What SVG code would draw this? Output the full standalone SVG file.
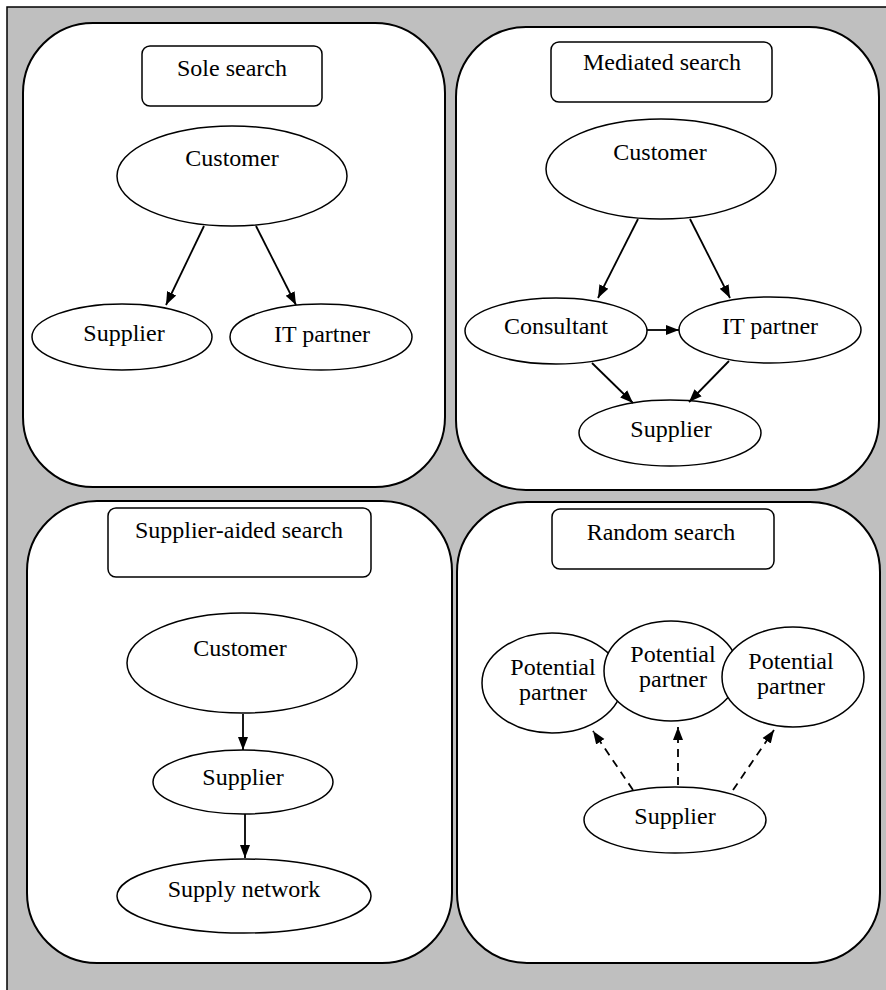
<svg xmlns="http://www.w3.org/2000/svg" width="886" height="990" viewBox="0 0 886 990">
  <style>
    .frame { fill: #bfbfbf; stroke: #000; stroke-width: 1.5; }
    .panel { fill: #fff; stroke: #000; stroke-width: 2; }
    .title { fill: #fff; stroke: #000; stroke-width: 1.5; }
    .node { fill: #fff; stroke: #000; stroke-width: 1.5; }
    .lbl { font-family: "Liberation Serif", "Times New Roman", serif; font-size: 24px; fill: #000; text-anchor: middle; }
    .edge { stroke: #000; stroke-width: 1.8; fill: none; marker-end: url(#arrow); }
    .dash { stroke-dasharray: 8 6; }
  </style>
  <defs>
    <marker id="arrow" markerUnits="userSpaceOnUse" markerWidth="14" markerHeight="12" refX="13" refY="6" orient="auto">
      <path d="M0,1 L13,6 L0,11 Z" fill="#000"/>
    </marker>
  </defs>

  <!-- background frame -->
  <rect class="frame" x="7" y="7" width="885" height="990"/>

  <!-- quadrant panels -->
  <g id="panel-sole">
    <rect class="panel" x="23" y="23" width="422" height="464" rx="70" ry="70"/>
    <rect class="title" x="142" y="46" width="180" height="60" rx="8" ry="8"/>
    <text class="lbl" x="232" y="76">Sole search</text>
  </g>
  <g id="panel-mediated">
    <rect class="panel" x="456" y="27" width="423" height="463" rx="70" ry="70"/>
    <rect class="title" x="551" y="42" width="221" height="60" rx="8" ry="8"/>
    <text class="lbl" x="662" y="70">Mediated search</text>
  </g>
  <g id="panel-supplier-aided">
    <rect class="panel" x="27" y="501" width="425" height="462" rx="70" ry="70"/>
    <rect class="title" x="108" y="508" width="263" height="69" rx="8" ry="8"/>
    <text class="lbl" x="239" y="538">Supplier-aided search</text>
  </g>
  <g id="panel-random">
    <rect class="panel" x="457" y="502" width="423" height="461" rx="70" ry="70"/>
    <rect class="title" x="552" y="509" width="222" height="60" rx="8" ry="8"/>
    <text class="lbl" x="661" y="540">Random search</text>
  </g>

  <!-- Sole search nodes -->
  <g id="sole-customer">
    <ellipse class="node" cx="232" cy="176" rx="115" ry="50"/>
    <text class="lbl" x="232" y="166">Customer</text>
  </g>
  <g id="sole-supplier">
    <ellipse class="node" cx="122" cy="337" rx="90" ry="33"/>
    <text class="lbl" x="124" y="341">Supplier</text>
  </g>
  <g id="sole-it-partner">
    <ellipse class="node" cx="321" cy="337" rx="91" ry="33"/>
    <text class="lbl" x="322" y="342">IT partner</text>
  </g>

  <!-- Mediated search nodes -->
  <g id="med-customer">
    <ellipse class="node" cx="661" cy="169" rx="115" ry="50"/>
    <text class="lbl" x="660" y="160">Customer</text>
  </g>
  <g id="med-consultant">
    <ellipse class="node" cx="556" cy="331" rx="91" ry="33"/>
    <text class="lbl" x="556" y="334">Consultant</text>
  </g>
  <g id="med-it-partner">
    <ellipse class="node" cx="770" cy="330" rx="91" ry="33"/>
    <text class="lbl" x="770" y="334">IT partner</text>
  </g>
  <g id="med-supplier">
    <ellipse class="node" cx="670" cy="433" rx="91" ry="33"/>
    <text class="lbl" x="671" y="437">Supplier</text>
  </g>

  <!-- Supplier-aided search nodes -->
  <g id="sa-customer">
    <ellipse class="node" cx="242" cy="663" rx="115" ry="50"/>
    <text class="lbl" x="240" y="656">Customer</text>
  </g>
  <g id="sa-supplier">
    <ellipse class="node" cx="243" cy="782" rx="90" ry="32"/>
    <text class="lbl" x="243" y="785">Supplier</text>
  </g>
  <g id="sa-supply-network">
    <ellipse class="node" cx="244" cy="896" rx="127" ry="37"/>
    <text class="lbl" x="244" y="897">Supply network</text>
  </g>

  <!-- Random search nodes -->
  <g id="rnd-partner-1">
    <ellipse class="node" cx="552" cy="683" rx="70" ry="50"/>
    <text class="lbl" x="553" y="675">Potential</text>
    <text class="lbl" x="553" y="700">partner</text>
  </g>
  <g id="rnd-partner-2">
    <ellipse class="node" cx="671" cy="671" rx="67" ry="50"/>
    <text class="lbl" x="673" y="662">Potential</text>
    <text class="lbl" x="673" y="687">partner</text>
  </g>
  <g id="rnd-partner-3">
    <ellipse class="node" cx="793" cy="677" rx="71" ry="50"/>
    <text class="lbl" x="791" y="669">Potential</text>
    <text class="lbl" x="791" y="694">partner</text>
  </g>
  <g id="rnd-supplier">
    <ellipse class="node" cx="675" cy="820" rx="91" ry="33"/>
    <text class="lbl" x="675" y="824">Supplier</text>
  </g>

  <!-- connectors -->
  <g id="connectors">
    <line class="edge" x1="204" y1="226" x2="166" y2="305"/>
    <line class="edge" x1="256" y1="226" x2="296" y2="305"/>

    <line class="edge" x1="638" y1="219" x2="598" y2="298"/>
    <line class="edge" x1="690" y1="219" x2="730" y2="298"/>
    <line class="edge" x1="647" y1="330" x2="679" y2="330"/>
    <line class="edge" x1="592" y1="363" x2="633" y2="403"/>
    <line class="edge" x1="729" y1="361" x2="689" y2="402"/>

    <line class="edge" x1="243" y1="714" x2="243" y2="750"/>
    <line class="edge" x1="245" y1="814" x2="245" y2="858"/>

    <line class="edge dash" x1="633" y1="790" x2="593" y2="731"/>
    <line class="edge dash" x1="678" y1="785" x2="678" y2="727"/>
    <line class="edge dash" x1="733" y1="790" x2="774" y2="730"/>
  </g>
</svg>
